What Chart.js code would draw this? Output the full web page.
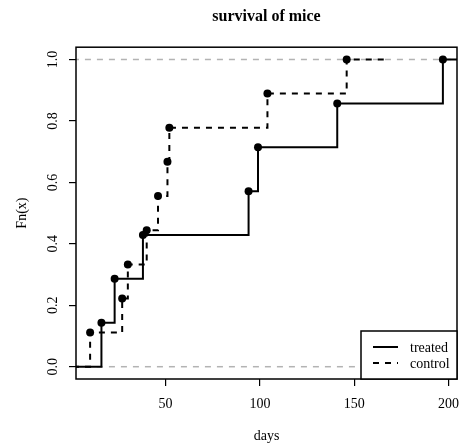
<!DOCTYPE html>
<html>
<head>
<meta charset="utf-8">
<script src="https://cdn.jsdelivr.net/npm/chart.js@4.4.1/dist/chart.umd.min.js"></script>
<style>
  html, body { margin: 0; padding: 0; background: #ffffff; }
  #wrap { width: 461px; height: 445px; }
</style>
</head>
<body>
<div id="wrap"><canvas id="ecdfChart" width="461" height="445"></canvas></div>
<script>
// ---------- data ----------
const treatedDays = [16, 23, 38, 94, 99, 141, 197];
const treatedFn   = [0.143, 0.286, 0.429, 0.571, 0.714, 0.857, 1.0];
const treatedEnds = [-177, 384];        // step function drawn beyond the box

const controlDays = [10, 27, 30, 40, 46, 51, 52, 104, 146];
const controlFn   = [0.111, 0.222, 0.333, 0.444, 0.556, 0.667, 0.778, 0.889, 1.0];
const controlEnds = [-11.8, 167.8];

const refLevels = [0, 1];
const xTicks = [50, 100, 150, 200];
const yTicks = [0, 0.2, 0.4, 0.6, 0.8, 1.0];
const xRange = [2.52, 204.48];
const yRange = [-0.04, 1.04];

const FONT = "'Liberation Serif', 'DejaVu Serif', serif";

// ---------- helpers ----------
function stepData(days, fn, ends){
    const pts = [{x: ends[0], y: 0}];
    days.forEach((d, i) => pts.push({x: d, y: fn[i]}));
    pts.push({x: ends[1], y: fn[fn.length - 1]});
    return pts;
}

function knotRadius(ctx){
    const n = ctx.dataset.data.length;
    return (ctx.dataIndex === 0 || ctx.dataIndex === n - 1) ? 0 : 4;
}

// ---------- box + legend plugin ----------
const boxLegend = {
    id: "boxLegend",
    afterDraw(chart){
        const {ctx, chartArea: a} = chart;
        ctx.save();
        ctx.strokeStyle = "#000";
        ctx.lineWidth = 1.5;
        ctx.strokeRect(a.left, a.top, a.right - a.left, a.bottom - a.top);

        // legend bottom right
        const w = 96, h = 48;
        const lx = a.right - w, ly = a.bottom - h;
        ctx.fillStyle = "#fff";
        ctx.fillRect(lx, ly, w, h);
        ctx.strokeRect(lx, ly, w, h);

        const items = chart.data.datasets.filter(d => d.inLegend);
        ctx.font = "14px " + FONT;
        ctx.textBaseline = "middle";
        ctx.textAlign = "left";
        items.forEach((ds, i) => {
            const y = ly + 16 + i * 16;
            ctx.beginPath();
            ctx.setLineDash(ds.borderDash || []);
            ctx.lineWidth = ds.borderWidth;
            ctx.strokeStyle = ds.borderColor;
            ctx.moveTo(lx + 12, y);
            ctx.lineTo(lx + 37, y);
            ctx.stroke();
            ctx.setLineDash([]);
            ctx.fillStyle = "#000";
            ctx.fillText(ds.label, lx + 49, y + 1);
        });
        ctx.restore();
    }
};

// ---------- chart ----------
const refSets = refLevels.map(v => ({
    label: "ref" + v,
    data: [{x: -50, y: v}, {x: 400, y: v}],
    borderColor: "#b3b3b3",
    borderWidth: 1.5,
    borderDash: [6, 6],
    pointRadius: 0,
    order: 3
}));

new Chart(document.getElementById("ecdfChart"), {
    type: "line",
    data: {
        datasets: [
            ...refSets,
            {
                label: "treated",
                inLegend: true,
                data: stepData(treatedDays, treatedFn, treatedEnds),
                stepped: "before",
                borderColor: "#000",
                borderWidth: 2,
                pointRadius: knotRadius,
                pointBackgroundColor: "#000",
                pointBorderWidth: 0,
                order: 1
            },
            {
                label: "control",
                inLegend: true,
                data: stepData(controlDays, controlFn, controlEnds),
                stepped: "before",
                borderColor: "#000",
                borderWidth: 2,
                borderDash: [6, 6],
                pointRadius: knotRadius,
                pointBackgroundColor: "#000",
                pointBorderWidth: 0,
                order: 2
            }
        ]
    },
    options: {
        responsive: false,
        animation: false,
        layout: { padding: { left: 0, right: 4, top: 0, bottom: 0 } },
        plugins: {
            legend: { display: false },
            tooltip: { enabled: false },
            title: {
                display: true,
                text: "survival of mice",
                fullSize: false,
                color: "#000",
                font: { family: FONT, size: 16, weight: "bold" },
                padding: { top: 7, bottom: 21 }
            }
        },
        scales: {
            x: {
                type: "linear",
                min: xRange[0],
                max: xRange[1],
                afterBuildTicks: s => { s.ticks = xTicks.map(v => ({value: v})); },
                afterFit: s => { s.height = 66; s.paddingRight = 0; s.paddingLeft = 0; },
                border: { display: false },
                grid: { drawOnChartArea: false, tickLength: 7, tickColor: "#000", lineWidth: 1.2 },
                ticks: { color: "#000", font: { family: FONT, size: 14 }, padding: 10, maxRotation: 0 },
                title: {
                    display: true, text: "days", color: "#000",
                    font: { family: FONT, size: 14 }, padding: { top: 13, bottom: 0 }
                }
            },
            y: {
                type: "linear",
                min: yRange[0],
                max: yRange[1],
                afterBuildTicks: s => { s.ticks = yTicks.map(v => ({value: v})); },
                afterFit: s => { s.width = 76; },
                border: { display: false },
                grid: { drawOnChartArea: false, tickLength: 7, tickColor: "#000", lineWidth: 1.2 },
                ticks: {
                    color: "#000", font: { family: FONT, size: 14 },
                    minRotation: 90, maxRotation: 90, crossAlign: "center", padding: 7,
                    callback: v => v.toFixed(1)
                },
                title: {
                    display: true, text: "Fn(x)", color: "#000",
                    font: { family: FONT, size: 14 }, padding: { top: 14, bottom: 0 }
                }
            }
        }
    },
    plugins: [boxLegend]
});
</script>
</body>
</html>
